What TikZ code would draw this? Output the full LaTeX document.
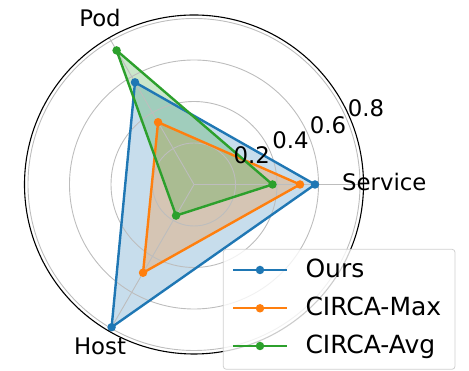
\documentclass[tikz,border=0pt]{standalone}
\usepackage{fontspec}
\setmainfont{DejaVu Sans}
\definecolor{tabblue}{HTML}{1F77B4}
\definecolor{taborange}{HTML}{FF7F0E}
\definecolor{tabgreen}{HTML}{2CA02C}
\definecolor{gridgray}{HTML}{BDBDBD}
\definecolor{framegray}{HTML}{D0D0D0}
\begin{document}
\begin{tikzpicture}[x=1pt,y=1pt,
  series/.style={line width=2.4pt, line join=round},
  area/.style={fill opacity=0.25},
  dot/.style={circle, inner sep=0pt, minimum size=8.5pt},
  gridline/.style={draw=gridgray, line width=0.9pt},
  lab/.style={font=\fontsize{22.8}{27}\selectfont, inner sep=0pt, anchor=base},
  leglab/.style={font=\fontsize{25}{30}\selectfont, inner sep=0pt, anchor=base west}]
\useasboundingbox (0,0) rectangle (469,371);

\begin{scope}[shift={(194,186.5)}]
  % centre and data points (angle : radius)
  \coordinate (O) at (0,0);
  \coordinate (oS) at (0:121);   \coordinate (oP) at (120:118);  \coordinate (oH) at (240:164.8);
  \coordinate (mS) at (0:106);   \coordinate (mP) at (120:71.9); \coordinate (mH) at (240:101.9);
  \coordinate (aS) at (0:78.5);  \coordinate (aP) at (120:154.8);\coordinate (aH) at (240:35.9);

  % filled areas
  \fill[tabblue,area]   (oS) -- (oP) -- (oH) -- cycle;
  \fill[taborange,area] (mS) -- (mP) -- (mH) -- cycle;
  \fill[tabgreen,area]  (aS) -- (aP) -- (aH) -- cycle;

  % polar grid
  \foreach \r in {41.5,83,124.5,166} \draw[gridline] (O) circle (\r);
  \foreach \a in {0,120,240} \draw[gridline] (O) -- (\a:169.5);

  % series outlines with markers
  \draw[series,tabblue]   (oS) -- (oP) -- (oH) -- cycle;
  \foreach \p in {oS,oP,oH} \node[dot,fill=tabblue] at (\p) {};
  \draw[series,taborange] (mS) -- (mP) -- (mH) -- cycle;
  \foreach \p in {mS,mP,mH} \node[dot,fill=taborange] at (\p) {};
  \draw[series,tabgreen]  (aS) -- (aP) -- (aH) -- cycle;
  \foreach \p in {aS,aP,aH} \node[dot,fill=tabgreen] at (\p) {};

  % outer frame
  \draw[line width=1.1pt] (O) circle (169.5);
\end{scope}

% radial tick labels
\node[lab] (t2) at (251.7,207.7) {0.2};
\node[lab] (t4) at (290.5,222.7) {0.4};
\node[lab] (t6) at (328,237.7) {0.6};
\node[lab] (t8) at (366,254.3) {0.8};

% axis labels
\node[lab] (pod) at (100,344.3) {Pod};
\node[lab] (service) at (384.3,180.3) {Service};
\node[lab] (host) at (100,16.5) {Host};

% legend
\node[draw=framegray, fill=white, fill opacity=0.8, line width=0.8pt,
      rounded corners=3pt, minimum width=231.7pt, minimum height=120pt,
      inner sep=0pt] (legend) at (339.15,61.7) {};
\foreach \y/\c/\t in {101/tabblue/Ours, 62.7/taborange/CIRCA-Max, 25/tabgreen/CIRCA-Avg}{
  \coordinate (la) at (233.3,\y);
  \coordinate (lb) at (286.7,\y);
  \draw[series,\c] (la) -- (lb);
  \node[dot,fill=\c] at (260,\y) {};
  \node[leglab] at (305.3,\y-7.5) {\t};
}
\end{tikzpicture}
\end{document}
